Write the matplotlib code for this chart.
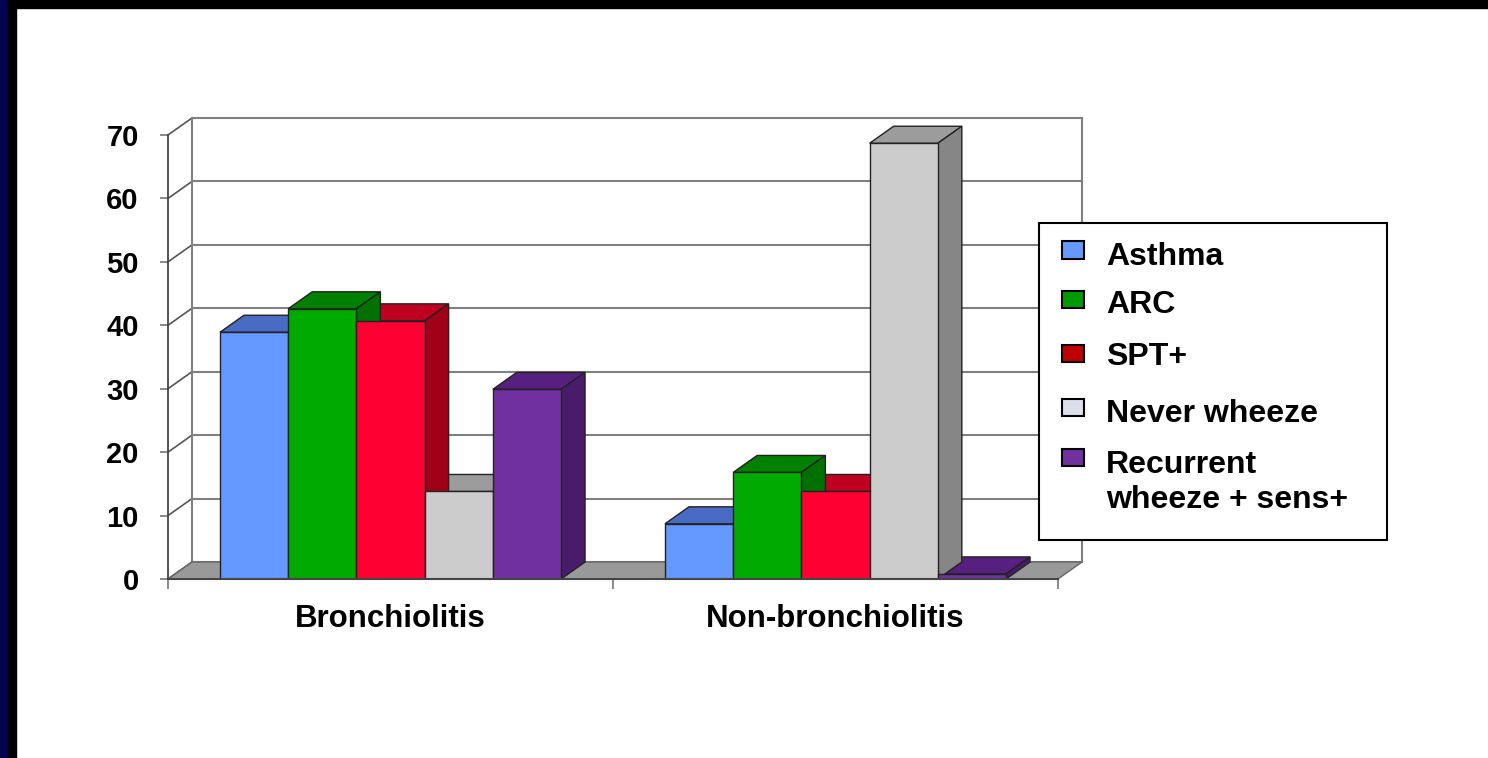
import matplotlib
matplotlib.use('Agg')
from matplotlib import pyplot as plt
from matplotlib.patches import Polygon, Rectangle
import numpy as np

plt.rcParams['font.family'] = ['Liberation Sans', 'DejaVu Sans']
plt.rcParams['font.weight'] = 'bold'

# data
categories = ['Bronchiolitis', 'Non-bronchiolitis']
series = ['Asthma', 'ARC', 'SPT+', 'Never wheeze', 'Recurrent\nwheeze + sens+']
bronchiolitis = [38.9, 42.6, 40.7, 13.8, 29.9]
non_bronchiolitis = [8.7, 16.8, 13.8, 68.7, 0.8]
y_ticks = [0, 10, 20, 30, 40, 50, 60, 70]

front_cols = ['#6699FF', '#00AA00', '#FF0033', '#CCCCCC', '#7030A0']
top_cols = ['#4A6BC4', '#008000', '#C00020', '#9C9C9C', '#561F80']
side_cols = ['#3E5AA8', '#007000', '#A00018', '#868686', '#481C6B']
legend_cols = ['#6699FF', '#009900', '#C00000', '#DDE0EB', '#7030A0']

W, H = 1488, 758
fig = plt.figure(figsize=(W / 100, H / 100), dpi=100)
fig.patch.set_facecolor('white')

# slide border
fig.add_artist(Rectangle((0, 0), 8 / W, 1, transform=fig.transFigure, color='#03034F', zorder=0))
fig.add_artist(Rectangle((8 / W, 0), 8 / W, 1, transform=fig.transFigure, color='black', zorder=0))
fig.add_artist(Rectangle((8 / W, 1 - 8 / H), 1, 8 / H, transform=fig.transFigure, color='black', zorder=0))

ax = fig.add_axes([168 / W, (H - 579) / H, 890 / W, 444 / H])
ax.set_xlim(0, 2)
ax.set_ylim(0, 70)
for s in ax.spines.values():
    s.set_visible(False)
ax.patch.set_visible(False)

# depth of the fake 3d box, in data units
ddx = 24 / 445
ddy = 17 / (444 / 70)
ncat = len(categories)

grid_c = '#808080'
# back wall and left wall grid
for v in y_ticks:
    ax.plot([ddx, ncat + ddx], [v + ddy, v + ddy], color=grid_c, lw=1.5, zorder=1, clip_on=False)
    ax.plot([0, ddx], [v, v + ddy], color='#555555', lw=1.2, zorder=1, clip_on=False)
ax.plot([ddx, ddx], [ddy, 70 + ddy], color=grid_c, lw=1.5, zorder=1, clip_on=False)
ax.plot([ncat + ddx, ncat + ddx], [ddy, 70 + ddy], color=grid_c, lw=1.5, zorder=1, clip_on=False)
ax.plot([0, 0], [0, 70], color='#444444', lw=1.3, zorder=6, clip_on=False)

# floor
ax.add_patch(Polygon([(0, 0), (ncat, 0), (ncat + ddx, ddy), (ddx, ddy)], closed=True,
                     facecolor='#999999', edgecolor='#666666', lw=1, zorder=2, clip_on=False))
ax.plot([0, ncat], [0, 0], color='#444444', lw=1.5, zorder=6, clip_on=False)

# bars
nser = len(series)
bw = 0.1533
off = (1 - nser * bw) / 2
data = np.array([bronchiolitis, non_bronchiolitis])
for j in range(nser):
    xs = np.arange(ncat) + off + j * bw
    vals = data[:, j]
    ax.bar(xs, vals, bw, align='edge', color=front_cols[j], edgecolor='#222222', lw=1, zorder=5)
    for x0, v in zip(xs, vals):
        top = [(x0, v), (x0 + bw, v), (x0 + bw + ddx, v + ddy), (x0 + ddx, v + ddy)]
        side = [(x0 + bw, 0), (x0 + bw + ddx, ddy), (x0 + bw + ddx, v + ddy), (x0 + bw, v)]
        ax.add_patch(Polygon(top, closed=True, facecolor=top_cols[j], edgecolor='#222222',
                             lw=1, zorder=3, clip_on=False))
        ax.add_patch(Polygon(side, closed=True, facecolor=side_cols[j], edgecolor='#222222',
                             lw=1, zorder=4, clip_on=False))

# axes ticks
ax.set_yticks(y_ticks)
ax.set_yticklabels([str(t) for t in y_ticks], fontsize=21, fontweight='bold')
ax.tick_params(axis='y', length=6, width=1.2, color='#777777', pad=15)
ax.set_xticks(np.arange(ncat) + 0.5)
ax.set_xticklabels(categories, fontsize=22.5, fontweight='bold')
ax.set_xticks(np.arange(ncat + 1), minor=True)
ax.tick_params(axis='x', which='major', length=0, pad=18)
ax.tick_params(axis='x', which='minor', length=7, width=1.2, color='#777777')

# legend box drawn by hand so the marker sits on the first line
def fx(px):
    return px / W

def fy(py):
    return (H - py) / H

fig.add_artist(Rectangle((fx(1039), fy(540)), 348 / W, 317 / H, transform=fig.transFigure,
                         facecolor='white', edgecolor='black', lw=1.5, zorder=10))
marker_y = [250, 299, 353, 407, 457]
text_base = [265, 313, 365, 422, 473]
for lab, col, my, tb in zip(series, legend_cols, marker_y, text_base):
    fig.add_artist(Rectangle((fx(1062), fy(my + 8.5)), 22 / W, 17 / H, transform=fig.transFigure,
                             facecolor=col, edgecolor='black', lw=1.5, zorder=11))
    for k, line in enumerate(lab.split('\n')):
        fig.text(fx(1106), fy(tb + k * 35), line, fontsize=23, fontweight='bold',
                 va='baseline', ha='left', zorder=12)

fig.savefig('out.png', dpi=100)
